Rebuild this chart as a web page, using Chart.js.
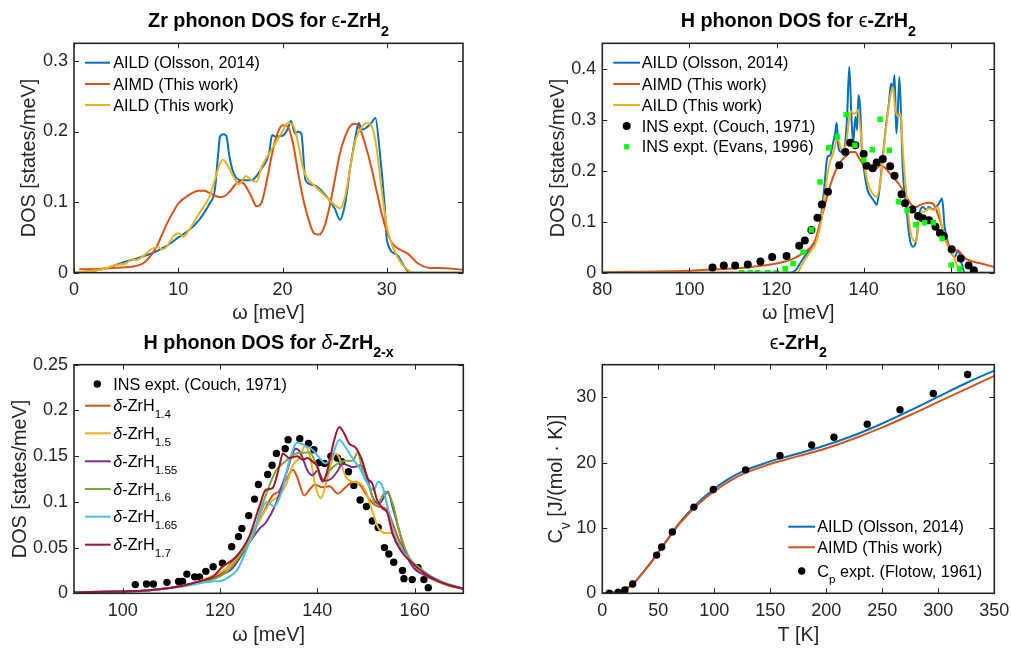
<!DOCTYPE html>
<html><head><meta charset="utf-8">
<script src="https://cdn.jsdelivr.net/npm/chart.js@4/dist/chart.umd.min.js"></script>
<style>
body{margin:0;background:#fff;width:1011px;height:648px;overflow:hidden;position:relative}
canvas{position:absolute}
</style></head><body>
<canvas id="c1" width="505" height="324" style="left:0;top:0"></canvas>
<canvas id="c2" width="506" height="324" style="left:505px;top:0"></canvas>
<canvas id="c3" width="505" height="324" style="left:0;top:324px"></canvas>
<canvas id="c4" width="506" height="324" style="left:505px;top:324px"></canvas>
<script>
// ---------- Panel 1: Zr phonon DOS, eps-ZrH2 ----------
const zrXTicks = [0, 10, 20, 30];
const zrYTicks = [0, 0.1, 0.2, 0.3];
const zrOlsson = [[0,0],[1,0.001],[2,0.003],[3,0.006],[4,0.011],[5,0.016],[6,0.02],[7,0.025],[8,0.031],[9,0.039],[10,0.05],[11,0.06],[12,0.075],[13,0.098],[13.5,0.117],[13.8,0.164],[14,0.193],[14.3,0.196],[14.6,0.194],[14.9,0.165],[15.3,0.141],[16,0.131],[17,0.131],[18,0.148],[18.7,0.169],[19,0.195],[19.3,0.193],[20,0.194],[20.5,0.204],[20.8,0.215],[21.2,0.197],[21.5,0.2],[21.8,0.197],[22.2,0.131],[23,0.124],[24,0.112],[25,0.091],[25.5,0.075],[26,0.098],[26.5,0.15],[27,0.193],[27.3,0.212],[27.6,0.203],[28,0.205],[28.5,0.212],[28.9,0.219],[29.3,0.174],[29.8,0.093],[30,0.046],[31,0.025],[31.5,0.013],[32,0.002],[32.3,0],[37.3,0]];
const zrAimd = [[0.5,0.005],[2,0.005],[4,0.007],[5.5,0.0085],[6.5,0.012],[7,0.018],[7.5,0.027],[8,0.039],[8.5,0.056],[9,0.072],[9.5,0.086],[10,0.098],[11,0.11],[12,0.116],[12.5,0.116],[13,0.113],[14,0.107],[14.5,0.109],[15,0.116],[15.8,0.129],[16.3,0.126],[17,0.108],[17.5,0.094],[18,0.1],[18.5,0.131],[19,0.169],[19.5,0.197],[20,0.209],[20.5,0.207],[21,0.183],[21.5,0.141],[22,0.103],[22.5,0.075],[23,0.056],[23.5,0.054],[24,0.065],[24.5,0.093],[25,0.131],[25.5,0.169],[26,0.193],[26.5,0.208],[27,0.211],[27.5,0.201],[28,0.178],[28.5,0.15],[29,0.117],[29.5,0.084],[30,0.058],[30.5,0.042],[31,0.035],[32,0.027],[32.5,0.02],[33,0.013],[34,0.007],[35,0.0065],[36,0.006],[37.3,0.004]];
const zrAild = [[0,0],[2,0.003],[3,0.006],[4,0.011],[5,0.013],[5.5,0.019],[6,0.018],[6.5,0.022],[7.5,0.034],[8,0.036],[8.5,0.033],[9,0.039],[9.5,0.051],[10,0.056],[10.5,0.051],[11,0.06],[12,0.084],[13,0.108],[13.5,0.131],[14,0.155],[14.3,0.16],[14.8,0.15],[15.3,0.136],[15.8,0.125],[16.5,0.137],[17,0.131],[17.5,0.129],[18,0.15],[18.5,0.164],[19,0.176],[19.5,0.188],[20,0.2],[20.5,0.212],[21,0.209],[21.5,0.183],[22,0.146],[22.5,0.131],[23,0.124],[24,0.11],[25,0.096],[25.5,0.091],[26,0.108],[26.5,0.15],[27,0.188],[27.5,0.204],[28,0.212],[28.5,0.209],[29,0.178],[29.5,0.117],[30,0.065],[30.5,0.039],[31,0.023],[31.5,0.011],[32,0.004],[32.5,0],[37.3,0]];

// ---------- Panel 2: H phonon DOS, eps-ZrH2 ----------
const hXTicks = [80, 100, 120, 140, 160];
const hYTicks = [0, 0.1, 0.2, 0.3, 0.4];
const hOlsson = [[80,0],[123,0],[124.4,0.005],[125.9,0.025],[127.5,0.044],[129,0.064],[130.2,0.11],[130.9,0.162],[131.7,0.227],[132.3,0.23],[132.8,0.247],[133.5,0.276],[133.8,0.294],[134.2,0.247],[134.8,0.237],[135.5,0.24],[136.2,0.306],[136.7,0.404],[137.2,0.306],[137.6,0.254],[138.1,0.306],[138.5,0.28],[138.8,0.348],[139.2,0.325],[139.6,0.24],[140.2,0.195],[140.9,0.162],[141.7,0.149],[142.5,0.139],[143,0.133],[143.6,0.162],[144.4,0.227],[145.2,0.293],[145.8,0.332],[146.3,0.371],[146.7,0.358],[147.1,0.388],[147.5,0.273],[147.8,0.306],[148.2,0.384],[148.6,0.306],[149,0.201],[149.8,0.129],[150.5,0.071],[151.3,0.051],[152.1,0.064],[152.8,0.116],[153.6,0.129],[154.4,0.123],[155,0.129],[155.8,0.124],[156.7,0.129],[157.5,0.139],[158,0.146],[158.6,0.09],[159.4,0.058],[160.2,0.038],[160.9,0.031],[161.7,0.044],[162.5,0.018],[163.2,0],[170,0]];
const hAimd = [[80,0.001],[100,0.004],[110,0.008],[115,0.012],[120,0.018],[122,0.022],[124,0.028],[126,0.038],[127,0.044],[128,0.051],[129,0.067],[130,0.097],[131,0.129],[132,0.162],[133,0.188],[134,0.208],[135,0.221],[136,0.229],[137,0.237],[138,0.237],[139,0.224],[140,0.211],[141,0.205],[142,0.2],[143,0.205],[144,0.211],[145,0.205],[146,0.195],[147,0.185],[148,0.175],[149,0.162],[150,0.146],[151,0.133],[152,0.129],[153,0.133],[154,0.136],[155,0.137],[156,0.135],[157,0.116],[158,0.09],[159,0.064],[160,0.048],[161,0.044],[162,0.041],[163,0.031],[164,0.025],[165,0.022],[167,0.018],[170,0.011]];
const hAild = [[80,0],[124.7,0],[126,0.018],[127.5,0.038],[129,0.058],[130.2,0.098],[131,0.149],[132,0.208],[133,0.234],[134,0.263],[135,0.24],[136,0.254],[137,0.316],[138,0.312],[138.7,0.319],[139.3,0.28],[140,0.221],[141,0.175],[142,0.156],[143,0.149],[144,0.188],[145,0.273],[146,0.339],[146.7,0.365],[147.2,0.325],[148,0.306],[148.5,0.312],[149,0.24],[150,0.136],[151,0.071],[152,0.061],[153,0.116],[154,0.12],[155,0.126],[156,0.123],[157,0.129],[158,0.09],[159,0.058],[160,0.044],[161,0.025],[162,0.005],[162.5,0],[170,0]];
const hCouch = [[105.3,0.01],[107.9,0.014],[110.5,0.014],[113.4,0.016],[116.3,0.022],[119,0.031],[122.3,0.033],[125.2,0.053],[126.5,0.063],[128,0.084],[129.4,0.108],[130.4,0.134],[131.8,0.159],[134.4,0.211],[135.8,0.237],[136.9,0.255],[138.1,0.25],[140,0.233],[140.7,0.21],[142.1,0.205],[143,0.216],[144.4,0.223],[146.1,0.209],[147.1,0.19],[148.7,0.154],[149.5,0.136],[151.2,0.124],[152.5,0.111],[153.6,0.107],[155,0.103],[156.5,0.09],[157.5,0.078],[158.4,0.072],[160.2,0.046],[162.3,0.028],[164.1,0.014],[165.3,0.005]];
const hEvans = [[112,0],[114,0],[115.7,0],[118,0],[120,0],[122,0.008],[123.8,0.018],[126.1,0.04],[128,0.084],[130,0.178],[132,0.245],[134,0.266],[136,0.31],[138,0.25],[140,0.221],[142,0.241],[143.8,0.301],[145.9,0.24],[148,0.139],[150,0.122],[152,0.094],[154,0.098],[156,0.098],[158,0.067],[160.1,0.015],[162,0.008]];

// ---------- Panel 3: H phonon DOS, delta-ZrH2-x ----------
const dXTicks = [100, 120, 140, 160];
const dYTicks = [0, 0.05, 0.1, 0.15, 0.2, 0.25];
const dCouch = [[102.6,0.0095],[104.9,0.0102],[106.3,0.0102],[109.1,0.012],[111.5,0.013],[112.3,0.013],[113.2,0.021],[114.8,0.018],[115.8,0.018],[117.1,0.024],[118.6,0.029],[120.5,0.033],[122.4,0.051],[123.8,0.062],[124.5,0.071],[125.9,0.085],[127.1,0.103],[127.9,0.119],[129.8,0.13],[130.7,0.14],[131.6,0.153],[133.4,0.158],[134,0.168],[136.4,0.169],[138.2,0.164],[139.3,0.157],[140.4,0.143],[141.5,0.142],[142.8,0.15],[144.1,0.148],[145,0.144],[146.4,0.133],[147.5,0.118],[148.8,0.102],[150.1,0.095],[151.3,0.079],[152.5,0.072],[153.8,0.05],[154.7,0.043],[155.7,0.034],[157.5,0.025],[157.8,0.016],[159.5,0.015],[160.7,0.028],[161.9,0.015],[162.8,0.0062]];
const d14 = [[90,0.001],[100,0.002],[105,0.003],[110,0.006],[113,0.009],[115,0.011],[117,0.015],[119,0.018],[121,0.025],[123,0.038],[125,0.05],[127,0.07],[129,0.089],[130,0.1],[131,0.108],[132,0.111],[133,0.12],[134,0.128],[135,0.135],[136,0.125],[137.3,0.107],[138.5,0.114],[139.5,0.119],[141,0.116],[142.5,0.117],[144.2,0.109],[145.8,0.116],[147,0.121],[148,0.122],[149,0.117],[150.3,0.106],[151.5,0.098],[152.5,0.095],[153.5,0.094],[154.5,0.09],[155.5,0.076],[156.8,0.058],[158.2,0.043],[160,0.03],[162,0.021],[164,0.015],[167,0.009],[170,0.005]];
const d15 = [[90,0.001],[100,0.002],[105,0.003],[110,0.006],[113,0.009],[115,0.012],[117,0.016],[119,0.02],[121,0.026],[123,0.035],[125,0.05],[127,0.068],[129,0.088],[130.5,0.1],[132,0.106],[133.5,0.118],[135,0.14],[136.3,0.148],[137.5,0.161],[138.5,0.15],[139.5,0.12],[140.7,0.104],[141.8,0.12],[143,0.145],[143.8,0.153],[144.5,0.148],[145.8,0.128],[147.2,0.122],[148.9,0.12],[150,0.111],[151,0.095],[152.5,0.072],[154,0.066],[155.2,0.066],[156,0.06],[157.5,0.048],[159,0.035],[161,0.025],[163,0.017],[165,0.012],[167,0.008],[170,0.005]];
const d155 = [[90,0.001],[100,0.002],[105,0.003],[110,0.006],[113,0.009],[115,0.011],[117,0.014],[119,0.017],[121,0.022],[122.5,0.027],[124,0.038],[126,0.055],[128,0.07],[129.5,0.078],[131.5,0.098],[133.6,0.131],[135.6,0.158],[136.6,0.153],[138,0.134],[139,0.129],[140,0.134],[141.4,0.123],[142.8,0.125],[144.2,0.134],[145.2,0.142],[147.3,0.138],[149,0.14],[150,0.131],[151.4,0.105],[152.7,0.098],[154.5,0.111],[155.5,0.094],[156.8,0.069],[158.2,0.043],[159.9,0.027],[162,0.02],[164,0.015],[167,0.009],[170,0.005]];
const d16 = [[90,0.001],[100,0.002],[105,0.003],[110,0.006],[113,0.009],[115,0.011],[117,0.013],[119,0.016],[121,0.022],[123,0.033],[125,0.048],[127,0.065],[128,0.085],[129.8,0.113],[131.5,0.134],[133.6,0.145],[135.6,0.153],[138.4,0.154],[139.7,0.142],[141,0.123],[142.5,0.134],[144.2,0.142],[145.9,0.145],[147.3,0.145],[148.3,0.154],[149.3,0.134],[150.7,0.116],[152.1,0.096],[154.1,0.111],[155.5,0.098],[156.8,0.069],[158.9,0.039],[161,0.028],[163,0.02],[165,0.014],[167,0.009],[170,0.005]];
const d165 = [[90,0.001],[100,0.002],[105,0.003],[110,0.006],[113,0.008],[115,0.01],[117,0.012],[118.5,0.013],[120.5,0.014],[121.9,0.018],[123.6,0.026],[126,0.055],[128.1,0.084],[129.6,0.1],[131.1,0.095],[132.9,0.115],[134.2,0.144],[135.9,0.165],[137.6,0.161],[139,0.157],[140,0.151],[141.7,0.142],[143.1,0.151],[144.5,0.168],[145.5,0.162],[147.2,0.148],[148.9,0.135],[150.3,0.12],[151.6,0.113],[152.5,0.122],[153.4,0.117],[154.4,0.095],[155.7,0.066],[157.5,0.047],[159.5,0.033],[162.2,0.022],[165,0.014],[167,0.01],[170,0.005]];
const d17 = [[90,0.001],[100,0.002],[105,0.003],[110,0.006],[113,0.009],[115,0.012],[117,0.015],[118.5,0.018],[120.5,0.029],[123.3,0.04],[126,0.062],[128.1,0.095],[129.4,0.113],[130.8,0.115],[132.2,0.139],[132.9,0.153],[134.2,0.148],[135.9,0.15],[137,0.146],[138,0.148],[139,0.144],[140,0.139],[141.1,0.122],[142.1,0.135],[143.4,0.166],[144.5,0.182],[145.5,0.175],[146.5,0.164],[147.9,0.159],[149.3,0.144],[150.3,0.126],[151.3,0.12],[152.3,0.102],[153.4,0.093],[154.4,0.088],[155.4,0.066],[157.1,0.047],[159.5,0.033],[162,0.022],[165,0.013],[167,0.009],[170,0.005]];

// ---------- Panel 4: heat capacity ----------
const cvXTicks = [0, 50, 100, 150, 200, 250, 300, 350];
const cvYTicks = [0, 10, 20, 30];
const tGrid = [0,5,10,15,20,25,30,35,40,45,50,55,60,65,70,75,80,85,90,95,100,110,120,130,140,150,160,175,200,225,250,275,300,325,350];
const cvOlsson = [0,0.02,0.1,0.3,0.6,1.1,1.9,2.9,4.0,5.1,6.3,7.5,8.7,9.9,11.0,12.0,12.9,13.8,14.6,15.3,16.0,17.2,18.2,19.0,19.6,20.2,20.7,21.4,22.7,24.2,26.0,28.0,30.1,32.2,34.1];
const cvAimd = [0,0.02,0.1,0.3,0.6,1.1,1.9,2.9,3.95,5.05,6.25,7.4,8.6,9.8,10.85,11.8,12.7,13.55,14.3,15.0,15.6,16.8,17.8,18.6,19.2,19.8,20.3,21.0,22.2,23.7,25.4,27.3,29.3,31.3,33.3];
const flotowT = [6.25,14.3,20.2,27.1,48.5,53,62.5,81.8,99.1,128,158.6,186.9,206.8,236.6,265.8,295.5,326.2];
const flotowCp = [0,0.15,0.5,1.42,5.85,7.1,9.4,13.2,15.9,18.9,21.1,22.7,23.9,25.9,28.1,30.6,33.5];

// ---------- styling ----------
const FAM = "'Liberation Sans', Arial, Helvetica, 'DejaVu Sans', sans-serif";
const COL = {blue:'#0072BD', orange:'#D95319', yellow:'#EDB120', purple:'#7E2F8E', green:'#77AC30', cyan:'#4DBEEE', red:'#A2142F', lime:'#00FF00', black:'#000000', axis:'#262626'};
const TICK = 18, LAB = 19.8, LEG = 16.2;

function pts(a){ return a.map(p => ({x:p[0], y:p[1]})); }
function zipPts(xs, ys){ return xs.map((x,i) => ({x, y:ys[i]})); }
function lineDs(label, data, color, order){
  return {label, data, borderColor:color, backgroundColor:color, borderWidth:2, pointRadius:0, fill:false, cubicInterpolationMode:'monotone', order};
}
function dotDs(label, data, color, r, style, order){
  return {label, data, showLine:false, borderColor:color, backgroundColor:color, pointRadius:r, pointStyle:style||'circle', pointBorderWidth:0, order};
}

function segFont(s, size, bold){
  const sz = s.sub ? size*0.72 : size;
  const b = bold && !s.nb ? 'bold ' : '';
  return (s.it ? 'italic ' : '') + b + sz + 'px ' + FAM;
}
function richWidth(ctx, segs, size, bold){
  let w = 0;
  for (const s of segs){ ctx.font = segFont(s, size, bold); w += ctx.measureText(s.t).width; }
  return w;
}
function drawRich(ctx, segs, x, y, size, color, bold){
  ctx.fillStyle = color; ctx.textBaseline = 'alphabetic'; ctx.textAlign = 'left';
  let cx = x;
  for (const s of segs){
    ctx.font = segFont(s, size, bold);
    ctx.fillText(s.t, cx, y + (s.sub ? size*0.42 : 0));
    cx += ctx.measureText(s.t).width;
  }
}

const decor = {
  id:'decor',
  afterDraw(chart, args, o){
    const ctx = chart.ctx, a = chart.chartArea, xs = chart.scales.x, ys = chart.scales.y;
    ctx.save();
    ctx.strokeStyle = COL.axis; ctx.lineWidth = 1;
    ctx.beginPath();
    for (const t of xs.ticks){
      const p = Math.round(xs.getPixelForValue(t.value)) + 0.5;
      ctx.moveTo(p, a.bottom); ctx.lineTo(p, a.bottom - 5);
      ctx.moveTo(p, a.top); ctx.lineTo(p, a.top + 5);
    }
    for (const t of ys.ticks){
      const p = Math.round(ys.getPixelForValue(t.value)) + 0.5;
      ctx.moveTo(a.left, p); ctx.lineTo(a.left + 5, p);
      ctx.moveTo(a.right, p); ctx.lineTo(a.right - 5, p);
    }
    ctx.stroke();
    ctx.lineWidth = 1.6;
    ctx.strokeRect(a.left, a.top, a.right - a.left, a.bottom - a.top);
    // title
    const tw = richWidth(ctx, o.title, LAB, true);
    drawRich(ctx, o.title, (a.left + a.right)/2 - tw/2, o.titleY, LAB, '#000', true);
    // legend
    for (const it of o.legend){
      if (it.kind === 'line'){
        ctx.strokeStyle = it.color; ctx.lineWidth = 2;
        ctx.beginPath(); ctx.moveTo(o.lx0, it.y); ctx.lineTo(o.lx1, it.y); ctx.stroke();
      } else if (it.kind === 'dot'){
        ctx.fillStyle = it.color; ctx.beginPath(); ctx.arc(o.mx, it.y, it.r, 0, Math.PI*2); ctx.fill();
      } else if (it.kind === 'sq'){
        ctx.fillStyle = it.color; ctx.fillRect(o.mx - it.r, it.y - it.r, it.r*2, it.r*2);
      }
      drawRich(ctx, it.text, o.tx, it.y + LEG*0.35, LEG, '#000', false);
    }
    // rotated rich y label
    if (o.ylab){
      const w = richWidth(ctx, o.ylab, LAB, false);
      ctx.translate(o.ylabX, (a.top + a.bottom)/2);
      ctx.rotate(-Math.PI/2);
      drawRich(ctx, o.ylab, -w/2, LAB*0.35, LAB, COL.axis, false);
    }
    ctx.restore();
  }
};

function xScale(min, max, ticks, title, axisH, tickPad, titlePadB){
  return {
    type:'linear', min, max,
    afterBuildTicks: s => { s.ticks = ticks.map(v => ({value:v})); },
    afterFit: s => { s.height = axisH; s.paddingLeft = 0; s.paddingRight = 0; },
    grid:{display:false, drawTicks:false}, border:{display:false},
    ticks:{padding:tickPad, color:COL.axis, font:{family:FAM, size:TICK}, maxRotation:0, autoSkip:false, callback:v => String(v)},
    title:{display:!!title, text:title, color:COL.axis, font:{family:FAM, size:LAB, lineHeight:1}, padding:{top:0, bottom:titlePadB}}
  };
}
function yScale(min, max, ticks, title, axisW, titlePadT){
  return {
    type:'linear', min, max,
    afterBuildTicks: s => { s.ticks = ticks.map(v => ({value:v})); },
    afterFit: s => { s.width = axisW; s.paddingTop = 0; s.paddingBottom = 0; },
    grid:{display:false, drawTicks:false}, border:{display:false},
    ticks:{padding:6, color:COL.axis, font:{family:FAM, size:TICK}, autoSkip:false, callback:v => String(v)},
    title:{display:!!title, text:title, color:COL.axis, font:{family:FAM, size:LAB, lineHeight:1}, padding:{top:titlePadT, bottom:0}}
  };
}
function makeChart(id, datasets, scales, pad, decorOpts){
  return new Chart(document.getElementById(id), {
    type:'line',
    data:{datasets},
    options:{
      responsive:false, animation:false, events:[],
      layout:{padding:pad, autoPadding:false},
      scales,
      plugins:{legend:{display:false}, title:{display:false}, tooltip:{enabled:false}, decor:decorOpts}
    },
    plugins:[decor]
  });
}

const epsT = [{t:'\u03F5', nb:true}];

// Panel 1
makeChart('c1', [
  lineDs('AILD (Olsson, 2014)', pts(zrOlsson), COL.blue, 3),
  lineDs('AIMD (This work)', pts(zrAimd), COL.orange, 2),
  lineDs('AILD (This work)', pts(zrAild), COL.yellow, 1)
], {
  x: xScale(0, 37.3, zrXTicks, '\u03C9 [meV]', 51.3, 7, 0.8),
  y: yScale(0, 0.325, zrYTicks, 'DOS [states/meV]', 74, 19.4)
}, {left:0, top:43.3, right:42, bottom:0}, {
  title:[{t:'Zr phonon DOS for '}, ...epsT, {t:'-ZrH'}, {t:'2', sub:true}], titleY:27.4,
  lx0:85, lx1:110, mx:97.5, tx:113.3,
  legend:[
    {kind:'line', color:COL.blue, y:62.7, text:[{t:'AILD (Olsson, 2014)'}]},
    {kind:'line', color:COL.orange, y:84, text:[{t:'AIMD (This work)'}]},
    {kind:'line', color:COL.yellow, y:105, text:[{t:'AILD (This work)'}]}
  ]
});

// Panel 2
makeChart('c2', [
  lineDs('AILD (Olsson, 2014)', pts(hOlsson), COL.blue, 5),
  lineDs('AIMD (This work)', pts(hAimd), COL.orange, 4),
  lineDs('AILD (This work)', pts(hAild), COL.yellow, 3),
  dotDs('INS expt. (Couch, 1971)', pts(hCouch), COL.black, 4, 'circle', 2),
  dotDs('INS expt. (Evans, 1996)', pts(hEvans), COL.lime, 3.9, 'rect', 1)
], {
  x: xScale(80, 170, hXTicks, '\u03C9 [meV]', 51.3, 7, 0.8),
  y: yScale(0, 0.45, hYTicks, 'DOS [states/meV]', 97.3, 43.4)
}, {left:0, top:43.3, right:16.7, bottom:0}, {
  title:[{t:'H phonon DOS for '}, ...epsT, {t:'-ZrH'}, {t:'2', sub:true}], titleY:27.4,
  lx0:108.3, lx1:135, mx:121.7, tx:136.7,
  legend:[
    {kind:'line', color:COL.blue, y:62.7, text:[{t:'AILD (Olsson, 2014)'}]},
    {kind:'line', color:COL.orange, y:84, text:[{t:'AIMD (This work)'}]},
    {kind:'line', color:COL.yellow, y:105, text:[{t:'AILD (This work)'}]},
    {kind:'dot', color:COL.black, r:4, y:126, text:[{t:'INS expt. (Couch, 1971)'}]},
    {kind:'sq', color:COL.lime, r:2.6, y:146.7, text:[{t:'INS expt. (Evans, 1996)'}]}
  ]
});

// Panel 3
const dLab = sub => [{t:'\u03B4', it:true}, {t:'-ZrH'}, {t:sub, sub:true}];
makeChart('c3', [
  dotDs('INS expt. (Couch, 1971)', pts(dCouch), COL.black, 3.7, 'circle', 7),
  lineDs('δ-ZrH1.4', pts(d14), COL.orange, 6),
  lineDs('δ-ZrH1.5', pts(d15), COL.yellow, 5),
  lineDs('δ-ZrH1.55', pts(d155), COL.purple, 4),
  lineDs('δ-ZrH1.6', pts(d16), COL.green, 3),
  lineDs('δ-ZrH1.65', pts(d165), COL.cyan, 2),
  lineDs('δ-ZrH1.7', pts(d17), COL.red, 1)
], {
  x: xScale(90, 170, dXTicks, '\u03C9 [meV]', 54.7, 6.6, 2.4),
  y: yScale(0, 0.25, dYTicks, 'DOS [states/meV]', 74, 10.8)
}, {left:0, top:40.7, right:41.7, bottom:0}, {
  title:[{t:'H phonon DOS for '}, {t:'\u03B4', it:true, nb:true}, {t:'-ZrH'}, {t:'2-x', sub:true}], titleY:24.8,
  lx0:85, lx1:110.7, mx:97.3, tx:113.3,
  legend:[
    {kind:'dot', color:COL.black, r:3.7, y:60, text:[{t:'INS expt. (Couch, 1971)'}]},
    {kind:'line', color:COL.orange, y:81.7, text:dLab('1.4')},
    {kind:'line', color:COL.yellow, y:109.3, text:dLab('1.5')},
    {kind:'line', color:COL.purple, y:137.3, text:dLab('1.55')},
    {kind:'line', color:COL.green, y:165, text:dLab('1.6')},
    {kind:'line', color:COL.cyan, y:192.7, text:dLab('1.65')},
    {kind:'line', color:COL.red, y:220.7, text:dLab('1.7')}
  ]
});

// Panel 4
makeChart('c4', [
  lineDs('AILD (Olsson, 2014)', zipPts(tGrid, cvOlsson), COL.blue, 3),
  lineDs('AIMD (This work)', zipPts(tGrid, cvAimd), COL.orange, 2),
  dotDs('Cp expt. (Flotow, 1961)', zipPts(flotowT, flotowCp), COL.black, 3.7, 'circle', 1)
], {
  x: xScale(0, 350, cvXTicks, 'T [K]', 54.7, 6.6, 2.4),
  y: yScale(0, 35, cvYTicks, '', 97.3, 0)
}, {left:0, top:40.7, right:16.7, bottom:0}, {
  title:[...epsT, {t:'-ZrH'}, {t:'2', sub:true}], titleY:24.8,
  lx0:283.3, lx1:310, mx:296.7, tx:312.3,
  legend:[
    {kind:'line', color:COL.blue, y:202.7, text:[{t:'AILD (Olsson, 2014)'}]},
    {kind:'line', color:COL.orange, y:223.3, text:[{t:'AIMD (This work)'}]},
    {kind:'dot', color:COL.black, r:3.7, y:247, text:[{t:'C'}, {t:'p', sub:true}, {t:' expt. (Flotow, 1961)'}]}
  ],
  ylab:[{t:'C'}, {t:'v', sub:true}, {t:' [J/(mol \u00B7 K)]'}], ylabX:50
});
</script>
</body></html>
